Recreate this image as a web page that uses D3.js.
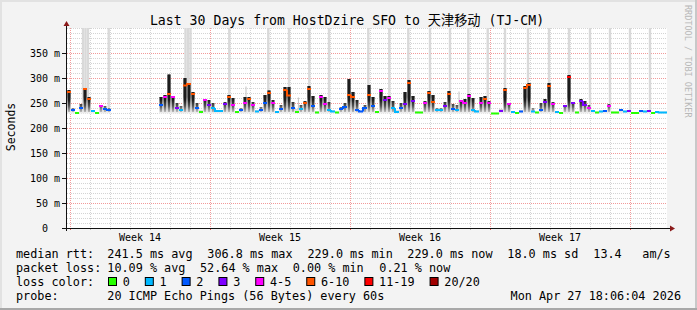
<!DOCTYPE html>
<html>
<head>
<meta charset="utf-8">
<script src="https://cdn.jsdelivr.net/npm/d3@7"></script>
<style>
body { margin: 0; background: #f3f3f3; }
text { font-family: "DejaVu Sans Mono", "Noto Sans CJK SC", monospace; white-space: pre; }
</style>
</head>
<body>
<div id="chart"></div>
<script>
var width = 697,
    height = 310;

// loss colour classes (pings lost out of 20)
var lossLabels = ["0", "1", "2", "3", "4-5", "6-10", "11-19", "20/20"];
var lossColors = ["#26ff00", "#00b8ff", "#0059ff", "#7e00ff", "#ff00ff", "#ff5500", "#ff0000", "#a10000"];

var yTicks = [0, 50, 100, 150, 200, 250, 300, 350];
var weekLabels = ["Week 14", "Week 15", "Week 16", "Week 17"];
var weekStarts = [0.15, 7.15, 14.15, 21.15, 28.15];   // days from graph start

// one sample every 0.2 day, 5 per row = 1 day
var sampleStep = 0.2;
var median = [
  272, 236, 230, 240, 278,
  258, 234, 230, 244, 238,
  236, null, null, null, null,
  null, null, null, null, null,
  null, null, null, 246, 262,
  268, 262, 240, 236, 285,
  288, 268, 240, 232, 256,
  246, 240, 234, 234, 248,
  262, 246, 232, 236, 250,
  258, 246, 233, 236, 250,
  270, 250, 232, 238, 276,
  265, 240, 232, 238, 250,
  278, 244, 231, 262, 248,
  236, 233, 231, 238, 242,
  266, 262, 236, 233, 240,
  266, 244, 232, 274, 256,
  260, 240, 232, 240, 248,
  290, 254, 231, 231, 250,
  270, 252, 236, 236, 244,
  268, 238, 236, 254, 250,
  264, 236, 233, 250, 258,
  250, 229, 229, 234, 276,
  248, 232, 230, 233, 280,
  286, 233, 231, 236, 252,
  284, 248, 232, 230, 244,
  302, 250, 231, 254, 246,
  240, 234, 231, 233, 234,
  244, 231, 231, 236, 233,
  234, 230, 230, 234, 233,
  234, 230, 232, 231, 231
];
var smokeTop = [
  276, 240, 232, 248, 280,
  262, 236, 231, 246, 244,
  240, null, null, null, null,
  null, null, null, null, null,
  null, null, null, 262, 266,
  307, 264, 250, 244, 300,
  290, 272, 250, 236, 258,
  256, 250, 236, 236, 252,
  266, 260, 234, 240, 262,
  262, 252, 236, 242, 266,
  275, 256, 234, 246, 282,
  282, 252, 238, 246, 254,
  284, 264, 234, 266, 262,
  252, 236, 233, 242, 250,
  298, 272, 256, 236, 246,
  286, 262, 234, 278, 264,
  264, 254, 236, 250, 272,
  296, 264, 234, 233, 254,
  274, 266, 240, 240, 252,
  274, 248, 246, 256, 258,
  268, 260, 236, 262, 264,
  254, 231, 231, 238, 280,
  250, 234, 232, 236, 284,
  290, 240, 233, 250, 258,
  290, 252, 234, 232, 246,
  306, 252, 233, 258, 254,
  246, 236, 233, 235, 236,
  248, 233, 233, 238, 235,
  236, 232, 232, 236, 235,
  236, 232, 234, 233, 233
];
var lossLevel = [
  5, 2, 0, 2, 5,
  5, 1, 0, 4, 2,
  2, null, null, null, null,
  null, null, null, null, null,
  null, null, null, 2, 4,
  5, 4, 3, 1, 5,
  5, 5, 2, 0, 4,
  3, 1, 1, 1, 3,
  5, 4, 0, 2, 4,
  5, 4, 1, 2, 2,
  5, 4, 1, 2, 5,
  5, 2, 0, 1, 5,
  5, 2, 0, 4, 4,
  1, 1, 0, 2, 2,
  5, 5, 2, 2, 2,
  5, 2, 0, 4, 3,
  4, 1, 1, 2, 3,
  5, 3, 0, 0, 4,
  5, 5, 1, 1, 3,
  5, 2, 1, 4, 4,
  4, 1, 1, 4, 5,
  4, 0, 0, 3, 5,
  4, 1, 0, 2, 5,
  5, 1, 0, 2, 3,
  5, 4, 1, 0, 3,
  6, 3, 0, 3, 3,
  4, 1, 0, 1, 2,
  4, 0, 0, 2, 1,
  3, 0, 0, 2, 1,
  3, 0, 1, 1, 1
];

// columns with lost pings drawn full height, and a few thin partial ones
var lossBarDays = [0.8, 0.925, 1.05, 2.085, 5.925, 6.05, 6.175, 8.115, 10.065, 11.1, 12.115, 13.1,
                   15.065, 16.115, 17.065, 18.15, 19.15, 20.065, 21.035, 21.9, 23.05, 24.1, 25.1,
                   26.15, 27.15, 28.15, 29.15];
var thinBarDays = [8.95, 11.57, 19.6];
var thinBarTops = [283, 261, 273];

var rttStats = ["241.5 ms avg", "306.8 ms max", "229.0 ms min", "229.0 ms now", "18.0 ms sd", "13.4", "am/s"];
var lossStats = ["10.09 % avg", "52.64 % max", "0.00 % min", "0.21 % now"];
var probeText = "20 ICMP Echo Pings (56 Bytes) every 60s";
var stampText = "Mon Apr 27 18:06:04 2026";

var x = d3.scaleLinear().domain([0, 30]).range([67, 667]);
var y = d3.scaleLinear().domain([0, 400]).range([228, 28]);

var svg = d3.select("#chart").append("svg")
    .attr("width", width)
    .attr("height", height);

svg.append("rect").attr("width", width).attr("height", height).attr("fill", "#f3f3f3");
svg.append("rect").attr("x", 0).attr("y", 0).attr("width", width).attr("height", 2).attr("fill", "#e2e2e2");
svg.append("rect").attr("x", 0).attr("y", 0).attr("width", 2).attr("height", height).attr("fill", "#e2e2e2");
svg.append("rect").attr("x", width - 2).attr("y", 0).attr("width", 2).attr("height", height).attr("fill", "#c8c8c8");
svg.append("rect").attr("x", 0).attr("y", height - 2).attr("width", width).attr("height", 2).attr("fill", "#a8a8a8");

svg.append("rect")
    .attr("x", x(0)).attr("y", y(400))
    .attr("width", x(30) - x(0)).attr("height", y(0) - y(400))
    .attr("fill", "#fff");

// title
svg.append("text")
    .attr("x", 347).attr("y", 25)
    .attr("text-anchor", "middle")
    .attr("font-size", "13.2px")
    .attr("fill", "#000")
    .text("Last 30 Days from HostDzire SFO to 天津移动 (TJ-CM)");

svg.append("text")
    .attr("transform", "translate(685,5)rotate(90)")
    .attr("font-size", "8.5px")
    .attr("fill", "#b8b8b8")
    .text("RRDTOOL / TOBI OETIKER");

svg.append("text")
    .attr("transform", "translate(15,127)rotate(-90)")
    .attr("text-anchor", "middle")
    .attr("font-size", "11.5px")
    .text("Seconds");

// grid
var grid = svg.append("g").attr("shape-rendering", "crispEdges");
d3.range(10, 401, 10).forEach(function(v) {
  var major = v % 50 === 0 && v < 400;
  grid.append("line")
      .attr("x1", x(0)).attr("x2", x(30))
      .attr("y1", y(v) + 0.5).attr("y2", y(v) + 0.5)
      .attr("stroke", major ? "#f29a9a" : "#d4d4d4")
      .attr("stroke-dasharray", "1,1");
});
d3.range(0, 30).forEach(function(k) {
  var d = weekStarts[0] + k;
  var major = weekStarts.some(function(w) { return Math.abs(w - d) < 1e-6; });
  grid.append("line")
      .attr("x1", x(d) + 0.5).attr("x2", x(d) + 0.5)
      .attr("y1", y(400)).attr("y2", y(0))
      .attr("stroke", major ? "#f29a9a" : "#d4d4d4")
      .attr("stroke-dasharray", "1,1");
  grid.append("line")
      .attr("x1", x(d) + 0.5).attr("x2", x(d) + 0.5)
      .attr("y1", y(0)).attr("y2", y(0) + 2)
      .attr("stroke", major ? "#e06060" : "#bbb");
});

// loss bars
var plot = svg.append("g");
plot.selectAll(".lossbar")
    .data(lossBarDays)
  .enter().append("rect")
    .attr("x", function(d) { return x(d) - 1.2; })
    .attr("y", y(400))
    .attr("width", 2.4)
    .attr("height", y(230) - y(400))
    .attr("fill", "#d9d9d9");
plot.selectAll(".thinbar")
    .data(thinBarDays)
  .enter().append("rect")
    .attr("x", function(d) { return x(d) - 0.5; })
    .attr("y", function(d, i) { return y(thinBarTops[i]); })
    .attr("width", 1)
    .attr("height", function(d, i) { return y(230) - y(thinBarTops[i]); })
    .attr("fill", "#c4c4c4");

// smoke: light haze over the full column, dark narrow spike in the middle
var defs = svg.append("defs");
var haze = defs.append("linearGradient")
    .attr("id", "haze")
    .attr("gradientUnits", "userSpaceOnUse")
    .attr("x1", 0).attr("x2", 0)
    .attr("y1", y(229)).attr("y2", y(262));
haze.append("stop").attr("offset", 0).attr("stop-color", "#f4f4f4");
haze.append("stop").attr("offset", 0.6).attr("stop-color", "#a8a8a8");
haze.append("stop").attr("offset", 1).attr("stop-color", "#6a6a6a");
var core = defs.append("linearGradient")
    .attr("id", "core")
    .attr("gradientUnits", "userSpaceOnUse")
    .attr("x1", 0).attr("x2", 0)
    .attr("y1", y(232)).attr("y2", y(256));
core.append("stop").attr("offset", 0).attr("stop-color", "#bdbdbd");
core.append("stop").attr("offset", 0.5).attr("stop-color", "#555");
core.append("stop").attr("offset", 1).attr("stop-color", "#1c1c1c");

var samples = median.map(function(m, i) {
  return {i: i, day: i * sampleStep, med: m, top: smokeTop[i], loss: lossLevel[i]};
});
var valid = samples.filter(function(d) { return d.med !== null; });
var colW = x(sampleStep) - x(0);

plot.selectAll(".haze")
    .data(valid)
  .enter().append("rect")
    .attr("x", function(d) { return x(d.day); })
    .attr("y", function(d) { return y(d.top); })
    .attr("width", colW)
    .attr("height", function(d) { return y(229) - y(d.top); })
    .attr("fill", "url(#haze)");

plot.selectAll(".core")
    .data(valid.filter(function(d) { return d.top >= 240; }))
  .enter().append("rect")
    .attr("x", function(d) { return x(d.day) + 1; })
    .attr("y", function(d) { return y(d.top); })
    .attr("width", 2)
    .attr("height", function(d) { return y(232) - y(d.top); })
    .attr("fill", "url(#core)");

// median, coloured by loss
var medG = plot.append("g").attr("stroke-width", 2).attr("fill", "none");
valid.forEach(function(d) {
  var prev = d.i > 0 ? samples[d.i - 1] : null;
  var path = "M" + x(d.day) + "," + y(d.med) + "H" + (x(d.day) + colW);
  if (prev && prev.med !== null && prev.loss === d.loss && Math.abs(prev.med - d.med) < 12) {
    path = "M" + x(d.day) + "," + y(prev.med) + "V" + y(d.med) + "H" + (x(d.day) + colW);
  }
  medG.append("path")
      .attr("d", path)
      .attr("stroke", lossColors[d.loss]);
});

// axes
var axis = svg.append("g").attr("shape-rendering", "crispEdges");
axis.append("line")
    .attr("x1", x(0) - 0.5).attr("x2", x(0) - 0.5)
    .attr("y1", y(0) + 3).attr("y2", y(400) - 3)
    .attr("stroke", "#111");
axis.append("line")
    .attr("x1", x(0) - 5).attr("x2", x(30) + 4)
    .attr("y1", y(0) + 0.5).attr("y2", y(0) + 0.5)
    .attr("stroke", "#111");
svg.append("path")
    .attr("d", "M" + (x(0) - 3.5) + "," + (y(400) - 2) + "L" + (x(0) - 0.5) + "," + (y(400) - 7) + "L" + (x(0) + 2.5) + "," + (y(400) - 2) + "Z")
    .attr("fill", "#8b1a1a");
svg.append("path")
    .attr("d", "M" + (x(30) + 3) + "," + (y(0) - 2.5) + "L" + (x(30) + 8) + "," + (y(0) + 0.5) + "L" + (x(30) + 3) + "," + (y(0) + 3.5) + "Z")
    .attr("fill", "#8b1a1a");

yTicks.forEach(function(v) {
  axis.append("line")
      .attr("x1", x(0) - 5).attr("x2", x(0))
      .attr("y1", y(v) + 0.5).attr("y2", y(v) + 0.5)
      .attr("stroke", "#111");
  svg.append("text")
      .attr("x", 60).attr("y", y(v) + 4)
      .attr("text-anchor", "end")
      .attr("font-size", "10px")
      .text(v === 0 ? "0  " : v + " m");
});

weekLabels.forEach(function(w, i) {
  svg.append("text")
      .attr("x", x((weekStarts[i] + weekStarts[i + 1]) / 2))
      .attr("y", 240.5)
      .attr("text-anchor", "middle")
      .attr("font-size", "10px")
      .text(w);
});

// legend
var legend = svg.append("g").attr("font-size", "11.8px").attr("fill", "#000");
var rttX = [107.3, 207.3, 307.5, 407.3, 507.3, 593.3, 642.3];
var lossX = [107.3, 200, 292.7, 379.3];

legend.append("text").attr("x", 16).attr("y", 258).text("median rtt:");
rttStats.forEach(function(s, i) {
  legend.append("text").attr("x", rttX[i]).attr("y", 258).text(s);
});
legend.append("text").attr("x", 16).attr("y", 272).text("packet loss:");
lossStats.forEach(function(s, i) {
  legend.append("text").attr("x", lossX[i]).attr("y", 272).text(s);
});
legend.append("text").attr("x", 16).attr("y", 286).text("loss color:");
var lx = 108;
lossLabels.forEach(function(l, i) {
  legend.append("rect")
      .attr("x", lx + 0.5).attr("y", 277.5)
      .attr("width", 8).attr("height", 8)
      .attr("fill", lossColors[i])
      .attr("stroke", "#000");
  var t = legend.append("text").attr("x", lx + 14.7).attr("y", 286).text(l);
  lx = lx + 14.7 + t.node().getComputedTextLength() + 15;
});
legend.append("text").attr("x", 16).attr("y", 299.7).text("probe:");
legend.append("text").attr("x", 107.3).attr("y", 299.7).text(probeText);
legend.append("text").attr("x", 681).attr("y", 299.7).attr("text-anchor", "end").text(stampText);
</script>
</body>
</html>
